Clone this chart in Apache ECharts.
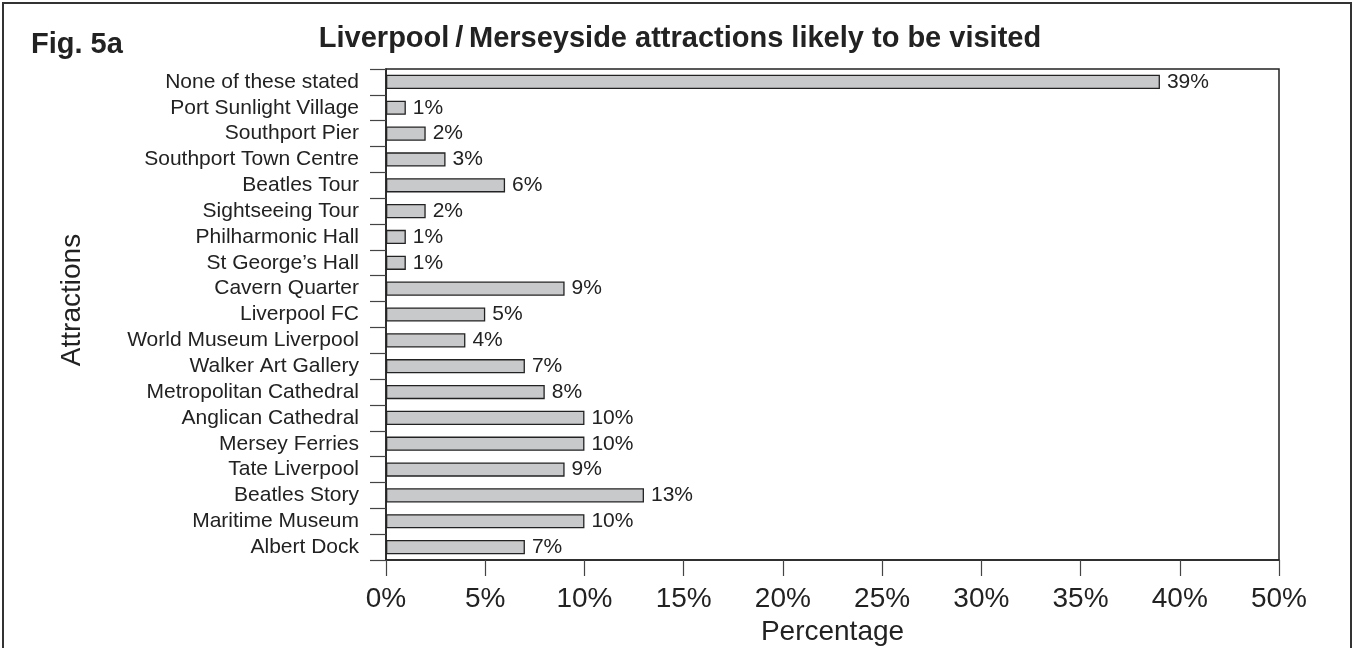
<!DOCTYPE html>
<html><head><meta charset="utf-8">
<script src="https://cdn.jsdelivr.net/npm/echarts@6/dist/echarts.min.js"></script>
<style>html,body{margin:0;padding:0;background:#fff}#c{width:1359px;height:648px}</style>
</head><body><div id="c"></div>
<script>
const categories = [
  'None of these stated', 'Port Sunlight Village', 'Southport Pier', 'Southport Town Centre',
  'Beatles Tour', 'Sightseeing Tour', 'Philharmonic Hall', 'St George\u2019s Hall',
  'Cavern Quarter', 'Liverpool FC', 'World Museum Liverpool', 'Walker Art Gallery',
  'Metropolitan Cathedral', 'Anglican Cathedral', 'Mersey Ferries', 'Tate Liverpool',
  'Beatles Story', 'Maritime Museum', 'Albert Dock'
];
const values = [39, 1, 2, 3, 6, 2, 1, 1, 9, 5, 4, 7, 8, 10, 10, 9, 13, 10, 7];
const xTickLabels = ['0%', '5%', '10%', '15%', '20%', '25%', '30%', '35%', '40%', '50%'];
const titleText = 'Liverpool\u2009/\u2009Merseyside attractions likely to be visited';
const figText = 'Fig. 5a';
const yName = 'Attractions';
const xName = 'Percentage';

const FONT = '"Liberation Sans", Arial, Helvetica, sans-serif';
const ink = '#222';
const chart = echarts.init(document.getElementById('c'), null, {renderer: 'canvas'});
chart.setOption({
  animation: false,
  backgroundColor: '#fff',
  textStyle: {fontFamily: FONT},
  grid: {left: 386, top: 69, right: 80, bottom: 88, show: true, borderColor: ink, borderWidth: 1.5,
    containLabel: false, outerBoundsMode: 'none'},
  xAxis: {
    type: 'value', min: 0, max: 45, interval: 5,
    axisLine: {show: true, lineStyle: {color: ink, width: 1.5}},
    axisTick: {show: true, length: 16, lineStyle: {color: '#444', width: 1.2}},
    splitLine: {show: false},
    axisLabel: {
      color: ink, fontSize: 28, fontFamily: FONT, margin: 25,
      formatter: function (v) { return xTickLabels[Math.round(v / 5)]; }
    },
    name: xName, nameLocation: 'middle', nameGap: 50,
    nameTextStyle: {color: ink, fontSize: 28, fontFamily: FONT}
  },
  yAxis: {
    type: 'category', data: categories, inverse: true,
    axisLine: {show: true, lineStyle: {color: ink, width: 1.5}},
    axisTick: {show: true, length: 16, lineStyle: {color: '#444', width: 1.2}},
    axisLabel: {color: ink, fontSize: 21, fontFamily: FONT, margin: 27, interval: 0}
  },
  series: [{
    type: 'bar', data: values, barWidth: '55%',
    itemStyle: {color: '#c8c9cb', borderColor: ink, borderWidth: 1.3},
    label: {show: true, position: 'right', distance: 7, color: ink, fontSize: 21, fontFamily: FONT,
      formatter: function (p) { return p.value + '%'; }}
  }],
  graphic: [
    {type: 'rect', shape: {x: 3, y: 3, width: 1348, height: 700}, style: {fill: 'none', stroke: '#333', lineWidth: 2}, silent: true},
    {type: 'text', x: 680, y: 39, style: {text: titleText, textAlign: 'center', textVerticalAlign: 'middle', font: 'bold 29px ' + FONT, fill: ink}},
    {type: 'text', x: 31, y: 45, style: {text: figText, textAlign: 'left', textVerticalAlign: 'middle', font: 'bold 29px ' + FONT, fill: ink}},
    {type: 'text', x: 72, y: 300, rotation: Math.PI / 2, style: {text: yName, textAlign: 'center', textVerticalAlign: 'middle', font: '28px ' + FONT, fill: ink}}
  ]
});
</script>
</body></html>
